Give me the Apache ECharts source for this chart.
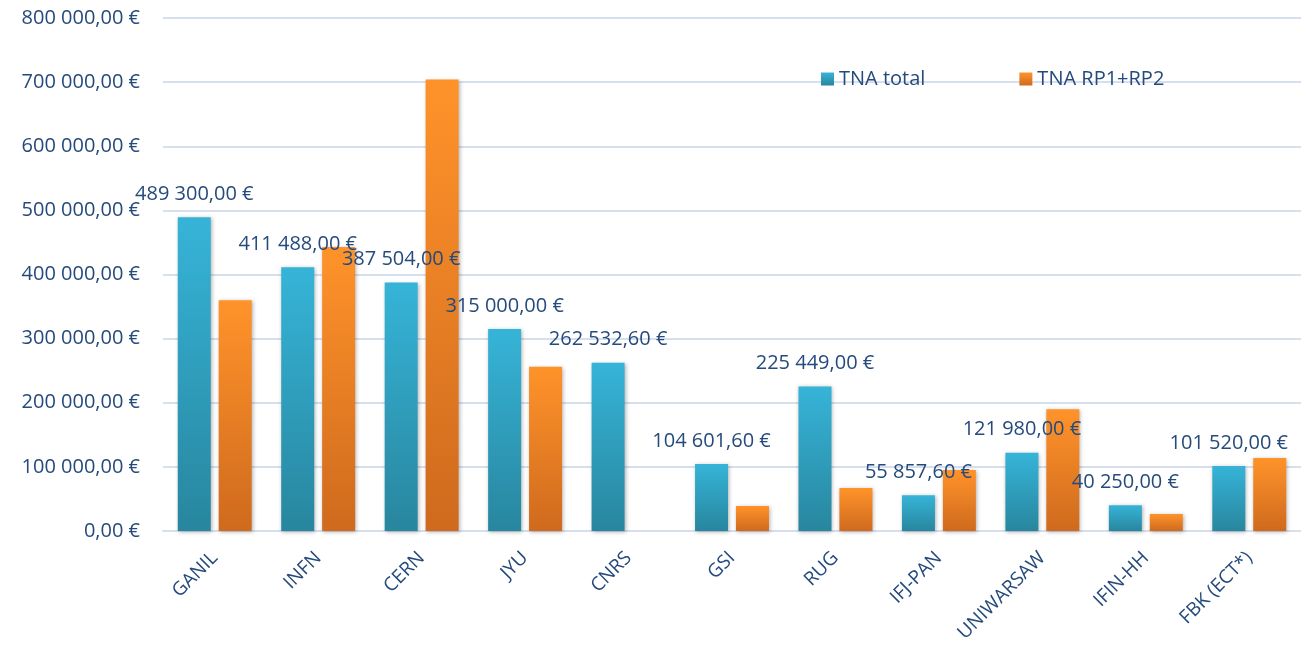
<!DOCTYPE html>
<html>
<head>
<meta charset="utf-8">
<script src="https://cdn.jsdelivr.net/npm/echarts@6/dist/echarts.min.js"></script>
<style>
html, body { margin: 0; padding: 0; background: #fff; }
#main { width: 1301px; height: 655px; }
</style>
</head>
<body>
<div id="main"></div>
<script>
var categories = ['GANIL', 'INFN', 'CERN', 'JYU', 'CNRS', 'GSI', 'RUG', 'IFJ-PAN', 'UNIWARSAW', 'IFIN-HH', 'FBK (ECT*)'];
var tnaTotal = [489300, 411488, 387504, 315000, 262532.6, 104601.6, 225449, 55857.6, 121980, 40250, 101520];
var tnaRp = [360000, 443000, 704000, 256000, 0, 39000, 67000, 95000, 190000, 26500, 114000];
var yTicks = [0, 100000, 200000, 300000, 400000, 500000, 600000, 700000, 800000];

var textColor = '#254A7C';
var fontName = 'Open Sans';

// 489300 -> "489 300,00 €"
function euro(v)
{
	var s = Number(v).toFixed(2).split('.');
	var whole = s[0].replace(/\B(?=(\d{3})+(?!\d))/g, ' ');
	return whole + ',' + s[1] + ' €';
}

function grad(top, bottom)
{
	return new echarts.graphic.LinearGradient(0, 0, 0, 1, [{ offset: 0, color: top }, { offset: 1, color: bottom }]);
}

var chart = echarts.init(document.getElementById('main'));

var option = {
	animation: false,
	backgroundColor: '#fff',
	legend: {
		top: 64,
		left: 816,
		itemGap: 94,
		itemWidth: 13,
		itemHeight: 13,
		icon: 'rect',
		textStyle: { color: textColor, fontSize: 20, fontFamily: fontName },
		data: ['TNA total', 'TNA RP1+RP2']
	},
	grid: { left: 163, right: 0, top: 18, bottom: 124 },
	xAxis: {
		type: 'category',
		data: categories,
		axisTick: { show: false },
		axisLine: { lineStyle: { color: '#D5DFEE', width: 2 } },
		axisLabel: { rotate: 45, color: textColor, fontSize: 19, fontFamily: fontName, margin: 24 }
	},
	yAxis: {
		type: 'value',
		min: yTicks[0],
		max: yTicks[yTicks.length - 1],
		interval: 100000,
		axisLine: { show: false },
		axisTick: { show: false },
		splitLine: { lineStyle: { color: '#D5DFEE', width: 2 } },
		axisLabel: {
			color: textColor, fontSize: 20, fontFamily: fontName, margin: 23,
			formatter: function(v){ return euro(v); }
		}
	},
	series: [
		{
			name: 'TNA total',
			type: 'bar',
			data: tnaTotal,
			barWidth: 33,
			barGap: '24%',
			itemStyle: {
				color: grad('#36B4D8', '#28869E'),
				shadowBlur: 4, shadowColor: 'rgba(0,0,0,0.3)', shadowOffsetX: 1, shadowOffsetY: 1
			},
			label: {
				show: true, position: 'top', distance: 13,
				color: textColor, fontSize: 20, fontFamily: fontName,
				formatter: function(p){ return euro(p.value); }
			}
		},
		{
			name: 'TNA RP1+RP2',
			type: 'bar',
			data: tnaRp,
			barWidth: 33,
			itemStyle: {
				color: grad('#FF932A', '#CF6A1E'),
				shadowBlur: 4, shadowColor: 'rgba(0,0,0,0.3)', shadowOffsetX: 1, shadowOffsetY: 1
			}
		}
	]
};

chart.setOption(option);
</script>
</body>
</html>
